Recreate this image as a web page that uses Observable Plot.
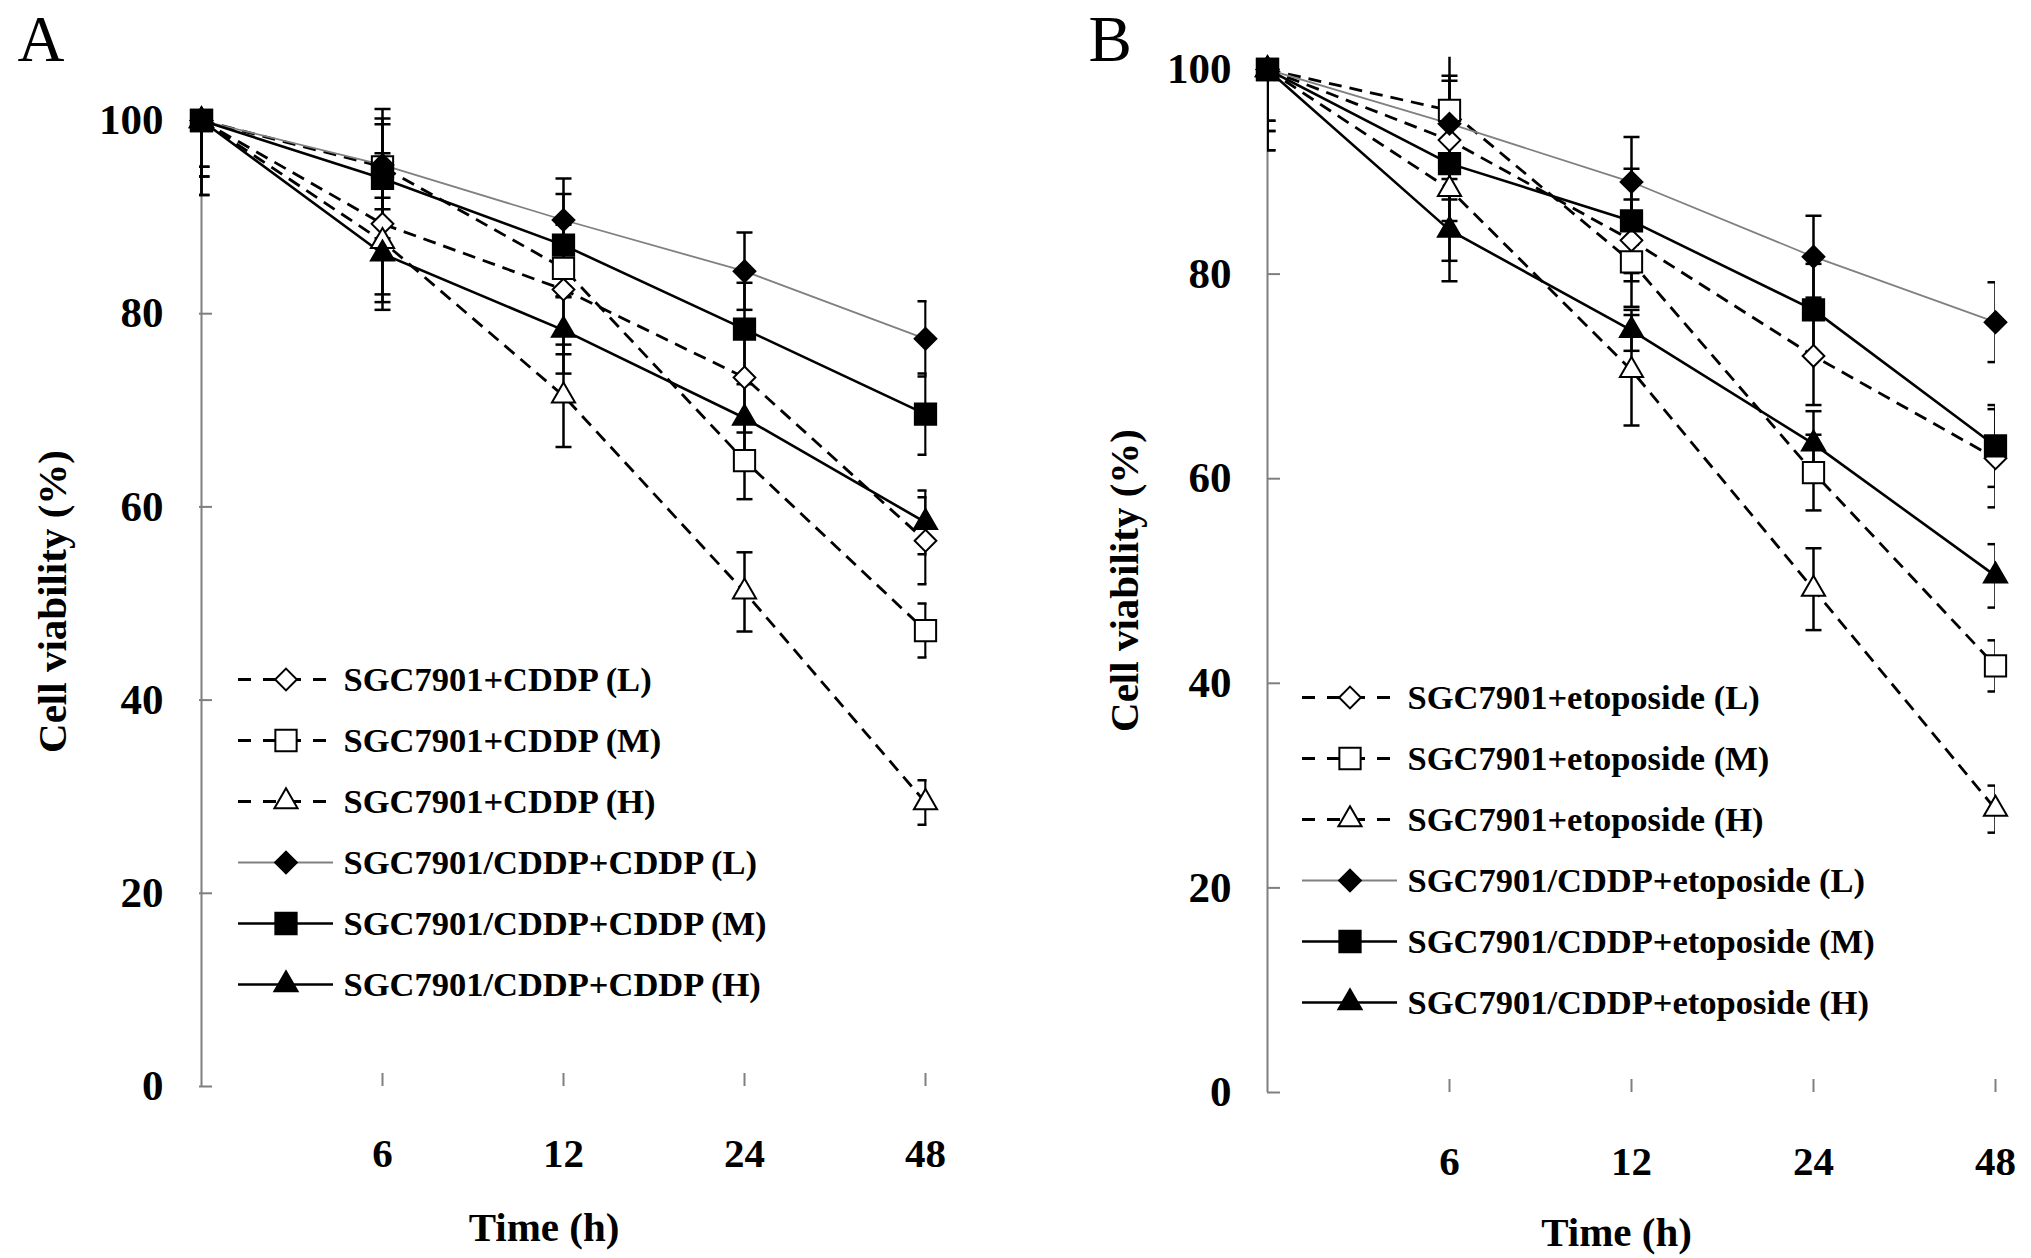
<!DOCTYPE html>
<html><head><meta charset="utf-8">
<script src="https://cdn.jsdelivr.net/npm/d3@7"></script>
<script src="https://cdn.jsdelivr.net/npm/@observablehq/plot@0.6"></script>
<style>
html,body{margin:0;padding:0;background:#fff;}
#chart{position:relative;width:2031px;height:1258px;overflow:hidden;background:#fff;}
#chart svg{position:absolute;left:0;top:0;}
</style></head><body><div id="chart"></div>
<script>
// ---------- data ----------
const times = ["0", "6", "12", "24", "48"];
const xTicks = ["6", "12", "24", "48"];
const yTicks = [0, 20, 40, 60, 80, 100];

const labelsA = ["SGC7901+CDDP (L)", "SGC7901+CDDP (M)", "SGC7901+CDDP (H)",
  "SGC7901/CDDP+CDDP (L)", "SGC7901/CDDP+CDDP (M)", "SGC7901/CDDP+CDDP (H)"];
const labelsB = ["SGC7901+etoposide (L)", "SGC7901+etoposide (M)", "SGC7901+etoposide (H)",
  "SGC7901/CDDP+etoposide (L)", "SGC7901/CDDP+etoposide (M)", "SGC7901/CDDP+etoposide (H)"];

// Panel A (CDDP)
const cddpParentL = [100, 89.3, 82.5, 73.4, 56.5];
const cddpParentM = [100, 95.2, 84.7, 64.8, 47.2];
const cddpParentH = [100, 87.5, 71.5, 51.2, 29.4];
const cddpResistL = [100, 95.4, 89.7, 84.4, 77.4];
const cddpResistM = [100, 94.0, 87.1, 78.4, 69.6];
const cddpResistH = [100, 86.2, 78.3, 69.2, 58.4];
const cddpParentLErr = [4.8, 7.3, 6.7, 5.7, 4.5];
const cddpParentMErr = [5.8, 4.4, 3.0, 4.0, 2.8];
const cddpParentHErr = [7.7, 6.3, 5.3, 4.1, 2.3];
const cddpResistLErr = [4.8, 5.8, 4.3, 4.0, 3.9];
const cddpResistMErr = [5.8, 6.2, 5.3, 4.8, 4.2];
const cddpResistHErr = [7.7, 5.8, 4.5, 3.5, 3.3];

// Panel B (etoposide)
const etoParentL = [100, 93.1, 83.3, 72.0, 62.0];
const etoParentM = [100, 96.0, 81.2, 60.6, 41.7];
const etoParentH = [100, 88.3, 70.6, 49.2, 27.7];
const etoResistL = [100, 94.7, 89.0, 81.7, 75.3];
const etoResistM = [100, 90.8, 85.2, 76.5, 63.2];
const etoResistH = [100, 84.3, 74.5, 63.4, 50.5];
const etoParentLErr = [5.0, 5.8, 4.0, 4.8, 4.8];
const etoParentMErr = [6.0, 6.0, 4.4, 3.7, 2.5];
const etoParentHErr = [7.9, 7.0, 5.4, 4.0, 2.3];
const etoResistLErr = [5.0, 4.7, 4.4, 4.0, 3.9];
const etoResistMErr = [6.0, 5.6, 5.1, 4.5, 4.0];
const etoResistHErr = [7.9, 5.0, 2.0, 3.2, 3.1];

// ---------- styles ----------
const W = 2031, H = 1258;
const axisGray = "#7f7f7f";
const font = "'Liberation Serif', 'Times New Roman', Times, serif";
const styles = [
  {symbol: "diamond2", r: 9.8, fill: "white", line: "black", dash: "13,8", width: 2.8},
  {symbol: "square", r: 12, fill: "white", line: "black", dash: "13,8", width: 2.8},
  {symbol: "triangle", r: 8.6, fill: "white", line: "black", dash: "13,8", width: 2.8},
  {symbol: "diamond2", r: 9.8, fill: "black", line: "#808080", dash: null, width: 1.8},
  {symbol: "square", r: 12, fill: "black", line: "black", dash: null, width: 2.6},
  {symbol: "triangle", r: 8.6, fill: "black", line: "black", dash: null, width: 2.6}
];
const cap = {draw(ctx, size) { const r = Math.sqrt(size / Math.PI); ctx.moveTo(-r, 0); ctx.lineTo(r, 0); }};
const svgStyle = {background: "transparent", overflow: "visible", fontFamily: font, fontWeight: "bold", color: "black"};

function panel(p) {
  const rows = [];
  p.values.forEach((vals, si) => vals.forEach((v, ti) => rows.push({s: si, t: times[ti], v, e: p.errors[si][ti]})));
  const bySeries = styles.map((st, si) => rows.filter(r => r.s === si));
  const marks = [
    Plot.ruleX([times[0]], {y1: 0, y2: 100, stroke: axisGray, strokeWidth: 2}),
    Plot.ruleY([0], {x1: times[0], x2: times[times.length - 1], stroke: axisGray, strokeWidth: 2}),
    Plot.axisY({ticks: yTicks, tickSize: -13, tickPadding: 49, stroke: axisGray, strokeWidth: 2, fill: "black", fontSize: 43, label: null}),
    Plot.axisX({ticks: xTicks, tickSize: -13, tickPadding: p.xPad, stroke: axisGray, strokeWidth: 2, fill: "black", fontSize: 41, label: null})
  ];
  styles.forEach((st, si) => marks.push(Plot.line(bySeries[si], {x: "t", y: "v", stroke: st.line, strokeWidth: st.width, strokeDasharray: st.dash, strokeLinecap: "butt"})));
  styles.forEach((st, si) => {
    const d = bySeries[si];
    marks.push(Plot.ruleX(d, {x: "t", y1: r => r.v - r.e, y2: r => r.v + r.e, stroke: "black", strokeWidth: 2.5, clip: true}));
    marks.push(Plot.dot(d, {x: "t", y: r => r.v + r.e, symbol: cap, r: 8, fill: "none", stroke: "black", strokeWidth: 2.5, clip: true}));
    marks.push(Plot.dot(d, {x: "t", y: r => r.v - r.e, symbol: cap, r: 8, fill: "none", stroke: "black", strokeWidth: 2.5, clip: true}));
  });
  styles.forEach((st, si) => marks.push(Plot.dot(bySeries[si], {x: "t", y: "v", symbol: st.symbol, r: st.r, fill: st.fill, stroke: "black", strokeWidth: 2})));
  marks.push(Plot.text([p.letter], {frameAnchor: "top-left", dx: p.letterDx, dy: p.letterDy, textAnchor: "start", lineAnchor: "middle", fontSize: 65, fontWeight: "normal"}));
  marks.push(Plot.text(["Cell viability (%)"], {frameAnchor: "left", dx: p.ylabDx, dy: p.ylabDy, rotate: -90, textAnchor: "middle", lineAnchor: "middle", fontSize: 41}));
  marks.push(Plot.text(["Time (h)"], {frameAnchor: "bottom", dx: p.xlabDx, dy: p.xlabDy, textAnchor: "middle", lineAnchor: "middle", fontSize: 41}));
  return Plot.plot({
    width: W, height: H,
    marginLeft: p.left, marginRight: W - p.right, marginTop: p.top, marginBottom: H - p.bottom,
    x: {type: "point", domain: times, padding: 0},
    y: {domain: [0, p.yMax]},
    style: svgStyle,
    marks
  });
}

function legend(labels, rowRange, xRange) {
  const marks = [];
  styles.forEach((st, i) => {
    marks.push(Plot.ruleY([labels[i]], {x1: 0, x2: 1, stroke: st.line, strokeWidth: st.width, strokeDasharray: st.dash ? "13,12" : null}));
  });
  styles.forEach((st, i) => {
    marks.push(Plot.dot([labels[i]], {x: 0.5, y: d => d, symbol: st.symbol, r: st.r, fill: st.fill, stroke: "black", strokeWidth: 2}));
  });
  marks.push(Plot.text(labels, {x: 1, y: d => d, dx: 10, textAnchor: "start", lineAnchor: "middle", fontSize: 34.5}));
  return Plot.plot({
    width: W, height: H, margin: 0,
    x: {domain: [0, 1], range: xRange, axis: null},
    y: {type: "point", domain: labels, range: rowRange, padding: 0, axis: null},
    style: svgStyle,
    marks
  });
}

const topA = 1086 - 101.35 * 9.66;
const topB = 1092 - 101.2 * 10.23;
const A = panel({
  values: [cddpParentL, cddpParentM, cddpParentH, cddpResistL, cddpResistM, cddpResistH],
  errors: [cddpParentLErr, cddpParentMErr, cddpParentHErr, cddpResistLErr, cddpResistMErr, cddpResistHErr],
  left: 199, right: 926.5, bottom: 1086, yMax: 101.35, top: topA,
  xPad: 64, letter: "A",
  letterDx: -182, letterDy: 39.5 - topA,
  ylabDx: -147, ylabDy: 601 - (1086 + topA) / 2,
  xlabDx: 543.5 - (199 + 926.5) / 2, xlabDy: 141
});
const B = panel({
  values: [etoParentL, etoParentM, etoParentH, etoResistL, etoResistM, etoResistH],
  errors: [etoParentLErr, etoParentMErr, etoParentHErr, etoResistLErr, etoResistMErr, etoResistHErr],
  left: 1267, right: 1995, bottom: 1092, yMax: 101.2, top: topB,
  xPad: 66, letter: "B",
  letterDx: -179, letterDy: 39.5 - topB,
  ylabDx: -143, ylabDy: 580 - (1092 + topB) / 2,
  xlabDx: 1616 - (1267 + 1995) / 2, xlabDy: 140
});
const LA = legend(labelsA, [676.3, 985.9], [238, 333]);
const LB = legend(labelsB, [695.3, 1004.4], [1302, 1397]);

const chart = document.getElementById("chart");
[A, B, LA, LB].forEach(el => chart.appendChild(el));
</script></body></html>
